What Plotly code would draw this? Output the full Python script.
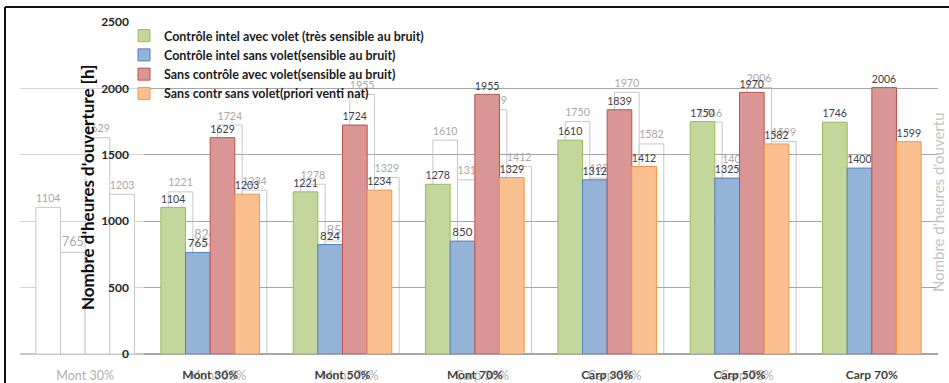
import plotly.graph_objects as go

# ---- data ----
categories = ["Mont 30%", "Mont 50%", "Mont 70%", "Carp 30%", "Carp 50%", "Carp 70%"]
series_names = [
    "Contrôle intel avec volet (très sensible au bruit)",
    "Contrôle intel sans volet(sensible au bruit)",
    "Sans contrôle avec volet(sensible au bruit)",
    "Sans contr sans volet(priori venti nat)",
]
ctrl_avec_volet = [1104, 1221, 1278, 1610, 1750, 1746]
ctrl_sans_volet = [765, 824, 850, 1312, 1325, 1400]
sans_ctrl_avec_volet = [1629, 1724, 1955, 1839, 1970, 2006]
sans_ctrl_sans_volet = [1203, 1234, 1329, 1412, 1582, 1599]
y_ticks = [0, 500, 1000, 1500, 2000, 2500]
y_title = "Nombre d'heures d'ouverture [h]"

series_values = [ctrl_avec_volet, ctrl_sans_volet, sans_ctrl_avec_volet, sans_ctrl_sans_volet]
fills = ["#C3D69B", "#95B3D7", "#D99694", "#FAC090"]
edges = ["#9BBB59", "#4F81BD", "#C0504D", "#F79646"]

# ---- page geometry (pixels) ----
W, H = 949, 383
plot_left, plot_right = 144, 938
y_top_px, y_zero_px = 22, 354
unit = (plot_right - plot_left) / len(categories)   # pixels per category
echo_left = 20
echo_shift = 125                                    # echo layer offset to the left

def px_x(p):
    return p / W

def px_y(p):
    return 1 - p / H

y_domain = [px_y(y_zero_px), px_y(y_top_px)]

# echo layer axis range so that category 0 sits echo_shift px left of the main category 0
main_c0 = plot_left + unit / 2
echo_c0 = main_c0 - echo_shift
echo_range = [(echo_left - echo_c0) / unit, (plot_right - echo_c0) / unit]

fig = go.Figure()

# faint echo copy of the chart (white boxes, grey outlines)
for vals in series_values:
    fig.add_trace(go.Bar(
        x=categories, y=vals, xaxis="x", yaxis="y",
        marker=dict(color="white", line=dict(color="#c8c8c8", width=1)),
        text=vals, textposition="outside", cliponaxis=False,
        textfont=dict(family="Lato", size=12.5, color="#a8a8a8"),
        showlegend=False, hoverinfo="skip",
    ))

# main chart
for name, vals, fc, ec in zip(series_names, series_values, fills, edges):
    fig.add_trace(go.Bar(
        x=categories, y=vals, name=name, xaxis="x2", yaxis="y2",
        marker=dict(color=fc, line=dict(color=ec, width=1)),
        text=vals, textposition="outside", cliponaxis=False,
        textfont=dict(family="Lato", size=11.5, color="#404040"),
    ))

fig.update_layout(
    width=W, height=H,
    margin=dict(l=0, r=0, t=0, b=0, autoexpand=False),
    paper_bgcolor="white",
    plot_bgcolor="rgba(0,0,0,0)",
    barmode="group",
    bargap=0.255,
    bargroupgap=0,
    font=dict(family="Lato", color="#262626"),
    xaxis=dict(
        domain=[px_x(echo_left), px_x(plot_right)],
        type="category", range=echo_range, automargin=False,
        showgrid=False, showline=False, zeroline=False, ticks="",
        tickfont=dict(family="Lato", size=12.5, color="#b0b0b0"),
        ticklabelstandoff=12,
    ),
    yaxis=dict(
        domain=y_domain, anchor="x", range=[0, 2500], automargin=False,
        tickvals=y_ticks, showticklabels=False,
        showgrid=True, gridcolor="#d4d4d4", gridwidth=1,
        zeroline=True, zerolinecolor="#c8c8c8",
    ),
    xaxis2=dict(
        domain=[px_x(plot_left), px_x(plot_right)], anchor="y2",
        type="category", range=[-0.5, len(categories) - 0.5], automargin=False,
        showgrid=False, showline=False, zeroline=False, ticks="",
        tickfont=dict(family="Lato", size=12, color="#404040", weight="bold"),
        ticklabelstandoff=12,
    ),
    yaxis2=dict(
        domain=y_domain, anchor="x2", range=[0, 2500], automargin=False,
        tickvals=y_ticks,
        tickfont=dict(family="Lato", size=12, color="#262626", weight="bold"),
        ticklabelstandoff=14,
        showgrid=True, gridcolor="#a6a6a6", gridwidth=1,
        zeroline=True, zerolinecolor="#a6a6a6",
    ),
    legend=dict(
        x=px_x(124), y=px_y(21), xanchor="left", yanchor="top",
        bgcolor="rgba(0,0,0,0)",
        font=dict(family="Lato", size=12.5, color="#1a1a1a", weight="bold"),
        tracegroupgap=0, itemwidth=30,
    ),
    annotations=[
        dict(text=y_title, xref="paper", yref="paper",
             x=px_x(87), y=(y_domain[0] + y_domain[1]) / 2,
             xanchor="center", yanchor="middle",
             textangle=-90, showarrow=False,
             font=dict(family="Lato", size=17, color="#0d0d0d", weight="bold")),
        dict(text="Nombre d'heures d'ouvertu", xref="paper", yref="paper",
             x=px_x(938), y=px_y(202),
             xanchor="center", yanchor="middle",
             textangle=-90, showarrow=False,
             font=dict(family="Lato", size=15, color="#c4c4c4")),
    ],
    shapes=[
        dict(type="line", xref="paper", yref="paper",
             x0=px_x(5), x1=1, y0=px_y(7), y1=px_y(7),
             line=dict(color="#111111", width=2)),
        dict(type="line", xref="paper", yref="paper",
             x0=px_x(5), x1=px_x(5), y0=0, y1=px_y(7),
             line=dict(color="#111111", width=2)),
    ],
)

fig.write_html("out.html")
